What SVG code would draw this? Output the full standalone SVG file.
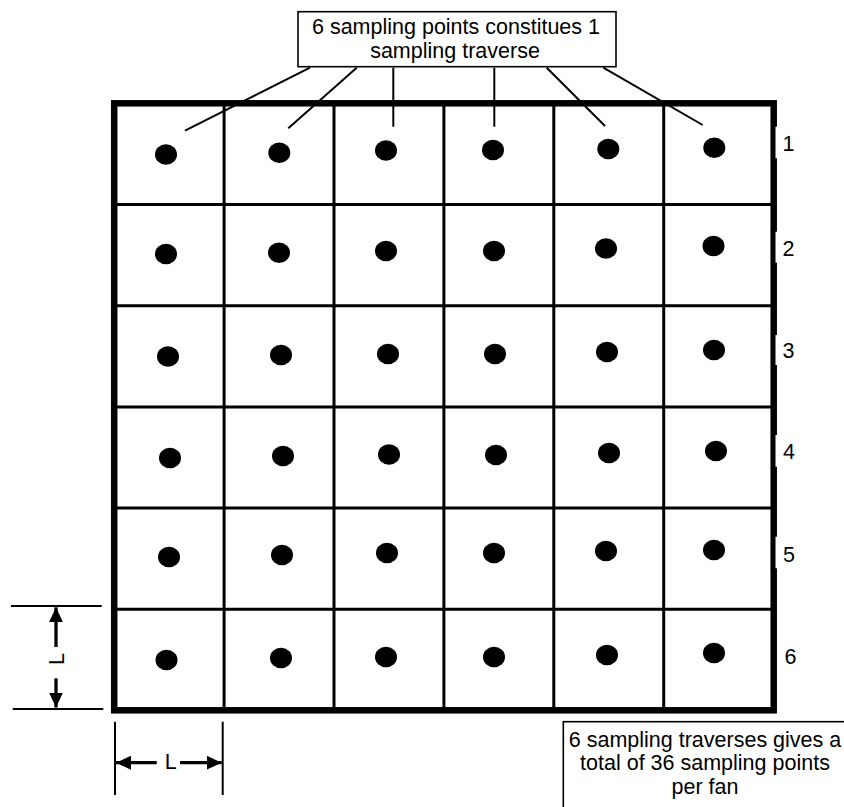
<svg xmlns="http://www.w3.org/2000/svg" width="844" height="807" viewBox="0 0 844 807">
<style>
text{font-family:"Liberation Sans",Arial,sans-serif;font-size:21.5px;fill:#000}
.c{text-anchor:middle}
.grid{stroke:#000;stroke-width:3;fill:none}
.lead{stroke:#000;stroke-width:2;fill:none}
.dim{stroke:#000;stroke-width:2;fill:none}
.shaft{stroke:#000;stroke-width:3.3;fill:none}
.dot{fill:#000}
.box{fill:#fff;stroke:#000;stroke-width:1.6}
.mask{fill:#fff}
</style>
<defs>
<marker id="ah" viewBox="0 0 15 14" refX="15" refY="7" markerWidth="15" markerHeight="14" markerUnits="userSpaceOnUse" orient="auto">
<path d="M0,0 L15,7 L0,14 z" fill="#000"/>
</marker>
</defs>
<g id="grid">
<rect x="114.2" y="103.3" width="659.5" height="607" fill="#fff" stroke="#000" stroke-width="6.5"/>
<path class="grid" d="M114 204.5H774M114 305.7H774M114 406.9H774M114 508.1H774M114 609.3H774"/>
<path class="grid" d="M224.1 103V710M334 103V710M443.9 103V710M553.8 103V710M663.7 103V710"/>
</g>
<g id="connectors">
<line class="lead" x1="310" y1="67.7" x2="185" y2="130.7"/>
<line class="lead" x1="356.7" y1="67.7" x2="288.3" y2="128.3"/>
<line class="lead" x1="393.3" y1="67.7" x2="393.3" y2="126.7"/>
<line class="lead" x1="494.3" y1="67.7" x2="494.3" y2="126.7"/>
<line class="lead" x1="546.7" y1="67.7" x2="605" y2="126"/>
<line class="lead" x1="603.3" y1="67.7" x2="702.7" y2="125"/>
</g>
<g id="points">
<ellipse class="dot" cx="166" cy="154.5" rx="11" ry="10.3"/>
<ellipse class="dot" cx="279.3" cy="152.7" rx="11" ry="10.3"/>
<ellipse class="dot" cx="386" cy="150.5" rx="11" ry="10.3"/>
<ellipse class="dot" cx="493" cy="150" rx="11" ry="10.3"/>
<ellipse class="dot" cx="608.3" cy="149" rx="11" ry="10.3"/>
<ellipse class="dot" cx="714.3" cy="147.7" rx="11" ry="10.3"/>
<ellipse class="dot" cx="166" cy="254" rx="11" ry="10.3"/>
<ellipse class="dot" cx="279" cy="252.7" rx="11" ry="10.3"/>
<ellipse class="dot" cx="386" cy="251" rx="11" ry="10.3"/>
<ellipse class="dot" cx="494" cy="251" rx="11" ry="10.3"/>
<ellipse class="dot" cx="606" cy="248.5" rx="11" ry="10.3"/>
<ellipse class="dot" cx="713.5" cy="246" rx="11" ry="10.3"/>
<ellipse class="dot" cx="168" cy="356.5" rx="11" ry="10.3"/>
<ellipse class="dot" cx="281" cy="355" rx="11" ry="10.3"/>
<ellipse class="dot" cx="388" cy="354" rx="11" ry="10.3"/>
<ellipse class="dot" cx="495" cy="354" rx="11" ry="10.3"/>
<ellipse class="dot" cx="607" cy="352" rx="11" ry="10.3"/>
<ellipse class="dot" cx="714" cy="350" rx="11" ry="10.3"/>
<ellipse class="dot" cx="170" cy="458" rx="11" ry="10.3"/>
<ellipse class="dot" cx="283" cy="456" rx="11" ry="10.3"/>
<ellipse class="dot" cx="389" cy="454.5" rx="11" ry="10.3"/>
<ellipse class="dot" cx="496" cy="455" rx="11" ry="10.3"/>
<ellipse class="dot" cx="609" cy="453" rx="11" ry="10.3"/>
<ellipse class="dot" cx="716" cy="451" rx="11" ry="10.3"/>
<ellipse class="dot" cx="169" cy="557" rx="11" ry="10.3"/>
<ellipse class="dot" cx="282" cy="555" rx="11" ry="10.3"/>
<ellipse class="dot" cx="387" cy="553" rx="11" ry="10.3"/>
<ellipse class="dot" cx="494" cy="553" rx="11" ry="10.3"/>
<ellipse class="dot" cx="606" cy="551" rx="11" ry="10.3"/>
<ellipse class="dot" cx="714" cy="550" rx="11" ry="10.3"/>
<ellipse class="dot" cx="166.5" cy="660" rx="11" ry="10.3"/>
<ellipse class="dot" cx="281" cy="658" rx="11" ry="10.3"/>
<ellipse class="dot" cx="386" cy="657" rx="11" ry="10.3"/>
<ellipse class="dot" cx="494" cy="657" rx="11" ry="10.3"/>
<ellipse class="dot" cx="607" cy="655" rx="11" ry="10.3"/>
<ellipse class="dot" cx="714" cy="653" rx="11" ry="10.3"/>
</g>
<g id="row-labels">
<rect class="mask" x="775.5" y="126.7" width="24" height="31.6"/>
<rect class="mask" x="775.5" y="231.7" width="24" height="31"/>
<rect class="mask" x="775.5" y="335" width="24" height="30"/>
<rect class="mask" x="775.5" y="435" width="24" height="31.7"/>
<rect class="mask" x="775.5" y="536.7" width="24" height="31.6"/>
<text x="782.5" y="150.5">1</text>
<text x="782.5" y="255.5">2</text>
<text x="782.5" y="357.5">3</text>
<text x="783" y="458.5">4</text>
<text x="783" y="562">5</text>
<text x="784.5" y="663.5">6</text>
</g>
<g id="title-box">
<rect class="box" x="298" y="11.7" width="318" height="55"/>
<text class="c" x="456" y="33.5">6 sampling points constitues 1</text>
<text class="c" x="455" y="57.5">sampling traverse</text>
</g>
<g id="note-box">
<rect class="box" x="563.3" y="721.7" width="284" height="100"/>
<text class="c" x="705" y="746.5">6 sampling traverses gives a</text>
<text class="c" x="705" y="770">total of 36 sampling points</text>
<text class="c" x="705" y="793.5">per fan</text>
</g>
<g id="dim-vertical">
<line class="dim" x1="11" y1="606" x2="101.7" y2="606"/>
<line class="dim" x1="12.7" y1="709" x2="103.3" y2="709"/>
<line class="shaft" x1="56" y1="647" x2="56" y2="607.3" marker-end="url(#ah)"/>
<line class="shaft" x1="56" y1="678.3" x2="56" y2="707.5" marker-end="url(#ah)"/>
<text class="c" transform="translate(63.5 659) rotate(-90)">L</text>
</g>
<g id="dim-horizontal">
<line class="dim" x1="115" y1="721.7" x2="115" y2="795"/>
<line class="dim" x1="222.7" y1="721.7" x2="222.7" y2="795"/>
<line class="shaft" x1="156.7" y1="762.7" x2="116" y2="762.7" marker-end="url(#ah)"/>
<line class="shaft" x1="180" y1="762.7" x2="221.7" y2="762.7" marker-end="url(#ah)"/>
<text class="c" x="170.7" y="768.5">L</text>
</g>
</svg>
